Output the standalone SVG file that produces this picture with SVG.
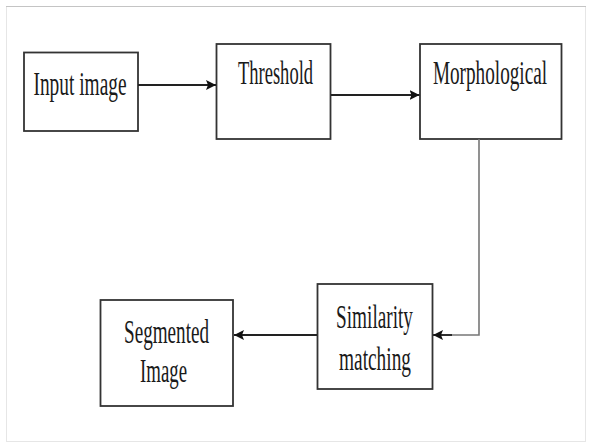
<svg xmlns="http://www.w3.org/2000/svg" width="590" height="446" viewBox="0 0 590 446">
<defs>
<style>
.box{fill:#fff;stroke:#333;stroke-width:1.8}
.lbl{font-family:"Liberation Serif","Times New Roman",serif;font-size:34px;fill:#1a1a1a;text-anchor:middle}
.con{fill:none;stroke:#222;stroke-width:1.8}
.con2{fill:none;stroke:#777;stroke-width:1.6}
</style>
<marker id="ah" viewBox="0 0 10 10" refX="10" refY="5" markerWidth="10" markerHeight="10" markerUnits="userSpaceOnUse" orient="auto">
<path d="M0,0 L10,5 L0,10 L2,5 Z" fill="#111"/>
</marker>
</defs>
<rect x="0" y="0" width="590" height="446" fill="#fff"/>
<rect x="6.5" y="6.5" width="579" height="435" fill="none" stroke="#e6e6e6" stroke-width="1"/>
<line x1="6" y1="6.5" x2="586" y2="6.5" stroke="#c4c4c4" stroke-width="1.2"/>
<g id="input-image">
<rect class="box" x="24" y="52.5" width="114" height="78.5"/>
<text class="lbl" transform="translate(80,95) scale(0.57,1)">Input image</text>
</g>
<g id="threshold">
<rect class="box" x="216.5" y="44" width="114" height="95"/>
<text class="lbl" transform="translate(275.5,83.5) scale(0.545,1)">Threshold</text>
</g>
<g id="morphological">
<rect class="box" x="420" y="44" width="141.5" height="95"/>
<text class="lbl" transform="translate(490,84) scale(0.565,1)">Morphological</text>
</g>
<g id="similarity-matching">
<rect class="box" x="317.5" y="284" width="115" height="105"/>
<text class="lbl" transform="translate(374.5,327.5) scale(0.566,1)">Similarity</text>
<text class="lbl" transform="translate(375,370) scale(0.569,1)">matching</text>
</g>
<g id="segmented-image">
<rect class="box" x="100.5" y="300" width="132.5" height="106"/>
<text class="lbl" transform="translate(166.5,343) scale(0.563,1)">Segmented</text>
<text class="lbl" transform="translate(163.5,382) scale(0.553,1)">Image</text>
</g>
<g id="connectors">
<line class="con" x1="138" y1="85" x2="216" y2="85" marker-end="url(#ah)"/>
<line class="con" x1="331" y1="95" x2="419.5" y2="95" marker-end="url(#ah)"/>
<polyline class="con2" points="479,139 479,335 434,335"/>
<line class="con" x1="452" y1="335" x2="433" y2="335" marker-end="url(#ah)"/>
<line class="con" x1="317" y1="335" x2="234" y2="335" marker-end="url(#ah)"/>
</g>
</svg>
